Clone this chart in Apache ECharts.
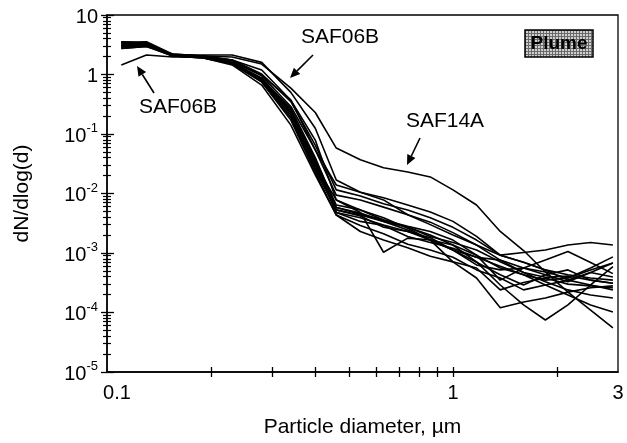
<!DOCTYPE html>
<html>
<head>
<meta charset="utf-8">
<script src="https://cdn.jsdelivr.net/npm/echarts@6/dist/echarts.min.js"></script>
<style>
html,body{margin:0;padding:0;background:#fff;}
#chart{width:627px;height:443px;}
</style>
</head>
<body>
<div id="chart"></div>
<script>
// Particle diameter (µm) at each measured bin
const diameters = [0.11,0.13,0.155,0.19,0.23,0.28,0.34,0.40,0.46,0.54,0.63,0.74,0.86,1.0,1.17,1.37,1.6,1.85,2.15,2.5,2.9];

// dN/dlog(d) for each flight
const saf14a = [3.13,3.2,2.13,2.05,1.97,1.5,0.59,0.23,0.058,0.037,0.027,0.023,0.019,0.0115,0.0064,0.0023,0.0011,0.00048,0.00022,0.00011,0.000055];
const saf06bUpper = [3.05,3.13,2.13,2.13,2.13,1.6,0.5,0.125,0.0169,0.0105,0.0078,0.0044,0.003,0.002,0.00136,0.00092,0.0007,0.00052,0.00035,0.00029,0.00024];
const saf06bLower = [1.45,2.13,1.97,1.97,1.75,0.98,0.37,0.079,0.0078,0.0053,0.0039,0.0026,0.00165,0.00112,0.0007,0.00043,0.00029,0.00043,0.00052,0.00035,0.00031];
const flight4 = [2.75,2.95,2.2,2.05,1.75,1.19,0.37,0.054,0.0139,0.0105,0.0085,0.0064,0.0049,0.0034,0.0019,0.00092,0.00102,0.00112,0.00136,0.0015,0.00136];
const flight5 = [3.55,3.45,2.13,1.97,1.6,0.81,0.23,0.03,0.0078,0.0048,0.00103,0.00178,0.00165,0.00136,0.00092,0.00056,0.00043,0.00035,0.00038,0.00052,0.00068];
const flight6 = [3.3,3.45,2.05,1.97,1.55,0.75,0.19,0.0248,0.0053,0.00435,0.0034,0.00244,0.00165,0.00071,0.00038,0.00012,0.00015,0.000175,0.00022,0.00026,0.00028];
const flight7 = [2.9,3.13,2.13,2.05,1.6,0.87,0.25,0.037,0.0064,0.0053,0.0036,0.0027,0.002,0.00136,0.00071,0.00029,0.000134,0.0000748,0.000134,0.00029,0.00059];
const flight8 = [3.45,3.3,2.05,1.9,1.5,0.84,0.27,0.04,0.0058,0.0045,0.0036,0.0028,0.0023,0.00165,0.00092,0.00035,0.00056,0.00076,0.00106,0.00069,0.00045];
const flight9 = [3.05,3.3,2.13,1.97,1.6,0.81,0.208,0.03,0.0048,0.0039,0.00296,0.0023,0.00165,0.00112,0.00085,0.0006,0.00043,0.00029,0.000197,0.000134,0.000102];
const flight10 = [3.3,3.3,2.05,1.97,1.55,0.87,0.23,0.034,0.0058,0.0047,0.0034,0.0027,0.0019,0.0015,0.00112,0.00071,0.00047,0.00033,0.00024,0.000197,0.000175];
const flight11 = [2.9,3.0,2.05,1.9,1.45,0.665,0.141,0.0205,0.00435,0.0023,0.00165,0.00122,0.00088,0.00071,0.00056,0.00024,0.00032,0.00038,0.0003,0.00028,0.00026];
const flight12 = [3.13,3.13,2.13,1.97,1.65,0.95,0.29,0.054,0.0094,0.0078,0.0059,0.0044,0.0033,0.0022,0.00136,0.00076,0.00047,0.00039,0.00041,0.00035,0.00031];
const flight13 = [3.45,3.55,2.2,2.05,1.75,1.02,0.35,0.065,0.0115,0.0091,0.0067,0.0053,0.0039,0.0027,0.00165,0.00092,0.0007,0.00052,0.00043,0.00038,0.00035];
const flight14 = [3.05,3.13,2.05,1.9,1.55,0.78,0.19,0.027,0.0053,0.0042,0.0027,0.0023,0.0018,0.00112,0.00063,0.00052,0.00056,0.00043,0.00033,0.00047,0.000395];
const flight15 = [2.75,2.95,2.05,1.97,1.6,0.84,0.23,0.033,0.0048,0.0034,0.0029,0.0019,0.0015,0.0012,0.00085,0.00076,0.00056,0.00048,0.00038,0.00056,0.00086];
const flight16 = [3.55,3.3,2.13,1.97,1.5,0.75,0.171,0.0226,0.00435,0.0029,0.0021,0.0014,0.00112,0.00085,0.00052,0.00038,0.00024,0.00029,0.00035,0.00047,0.00068];

const allFlights = [saf14a,saf06bUpper,saf06bLower,flight4,flight5,flight6,flight7,flight8,flight9,flight10,flight11,flight12,flight13,flight14,flight15,flight16];

// Axis ticks / labels
const xLabelValues = [0.1, 1, 3];
const xTickValues = [0.2,0.3,0.4,0.5,0.6,0.7,0.8,0.9,1,2];
const yDecades = [1e-5,1e-4,1e-3,1e-2,1e-1,1,10];
const yMinorMultipliers = [2,3,4,5,6,7,8,9];

const yMinorTicks = [];
yDecades.slice(0, -1).forEach(d => yMinorMultipliers.forEach(m => yMinorTicks.push(+(d*m).toPrecision(3))));

const FONT = 'Liberation Sans';
const chart = echarts.init(document.getElementById('chart'), null, {renderer:'canvas'});

function yLabel(v){
  const e = Math.round(Math.log10(v));
  if (e === 1) return '{b|10}';
  if (e === 0) return '{b|1}';
  return '{b|10}{s|' + e + '}';
}

// hatched fill for the "Plume" box
const pat = document.createElement('canvas');
pat.width = 3; pat.height = 3;
(function(){
  const c = pat.getContext('2d');
  c.fillStyle = '#d0d0d0'; c.fillRect(0,0,3,3);
  c.fillStyle = '#6a6a6a'; c.fillRect(0,0,3,1); c.fillRect(0,0,1,3);
})();

const baseX = {type:'log', logBase:10, min:0.1, max:3, gridIndex:0, splitLine:{show:false}};
const baseY = {type:'log', logBase:10, min:1e-5, max:10, gridIndex:0, splitLine:{show:false}};

const option = {
  animation:false,
  backgroundColor:'#fff',
  grid:{left:107, right:9, top:15, bottom:71, show:true, borderColor:'#000', borderWidth:1.3, backgroundColor:'transparent'},
  xAxis:[
    Object.assign({}, baseX, {
      position:'bottom',
      axisLine:{show:true, lineStyle:{color:'#000', width:1.5}},
      axisTick:{show:true, inside:true, length:5, customValues:xTickValues, lineStyle:{color:'#000', width:1.3}},
      axisLabel:{show:true, customValues:xLabelValues, margin:11, color:'#000', fontFamily:FONT, fontSize:20,
        formatter:v => (Math.abs(v-0.1)<1e-9 ? '{f|0.1}' : String(Math.round(v))),
        rich:{f:{fontFamily:FONT, fontSize:20, color:'#000', padding:[0,0,0,20]}}},
      name:'Particle diameter, µm', nameLocation:'middle', nameGap:45,
      nameTextStyle:{fontFamily:FONT, fontSize:21, color:'#000'}
    }),
    Object.assign({}, baseX, {
      position:'bottom',
      axisLine:{show:false},
      axisTick:{show:true, inside:false, length:5, customValues:xTickValues, lineStyle:{color:'#000', width:1.3}},
      axisLabel:{show:false}
    })
  ],
  yAxis:[
    Object.assign({}, baseY, {
      position:'left',
      axisLine:{show:true, lineStyle:{color:'#000', width:1.5}},
      axisTick:{show:true, inside:true, length:7, customValues:yDecades, lineStyle:{color:'#000', width:1.3}},
      axisLabel:{show:true, customValues:yDecades, margin:9, color:'#000', fontFamily:FONT,
        formatter:yLabel,
        rich:{b:{fontFamily:FONT, fontSize:20, color:'#000', lineHeight:24, verticalAlign:'bottom'},
              s:{fontFamily:FONT, fontSize:13, color:'#000', verticalAlign:'top', lineHeight:24}}},
      name:'dN/dlog(d)', nameLocation:'middle', nameGap:74, nameRotate:90,
      nameTextStyle:{fontFamily:FONT, fontSize:21, color:'#000'}
    }),
    Object.assign({}, baseY, {
      position:'left', axisLine:{show:false}, axisLabel:{show:false},
      axisTick:{show:true, inside:false, length:6, customValues:yDecades, lineStyle:{color:'#000', width:1.3}}
    }),
    Object.assign({}, baseY, {
      position:'left', axisLine:{show:false}, axisLabel:{show:false},
      axisTick:{show:true, inside:true, length:4, customValues:yMinorTicks, lineStyle:{color:'#000', width:1.2}}
    }),
    Object.assign({}, baseY, {
      position:'left', axisLine:{show:false}, axisLabel:{show:false},
      axisTick:{show:true, inside:false, length:4, customValues:yMinorTicks, lineStyle:{color:'#000', width:1.2}}
    })
  ],
  series: allFlights.map((ys, k) => ({
    type:'line', xAxisIndex:0, yAxisIndex:0, showSymbol:false, symbol:'none',
    lineStyle:{color:'#000', width:1.6}, z:2,
    data: diameters.map((d,i) => [d, ys[i]])
  })),
  graphic:[]
};

function arrow(x1,y1,x2,y2){
  const ang = Math.atan2(y2-y1, x2-x1);
  const L = 10, W = 4.5;
  const bx = x2 - L*Math.cos(ang), by = y2 - L*Math.sin(ang);
  const px = -Math.sin(ang)*W, py = Math.cos(ang)*W;
  return [
    {type:'line', shape:{x1:x1,y1:y1,x2:bx,y2:by}, style:{stroke:'#000', lineWidth:1.6}, z:10},
    {type:'polygon', shape:{points:[[x2,y2],[bx+px,by+py],[bx-px,by-py]]}, style:{fill:'#000'}, z:10}
  ];
}
function label(text,x,y){
  return {type:'text', x:x, y:y, style:{text:text, fill:'#000', font:'21px "Liberation Sans"', textAlign:'center', textVerticalAlign:'middle'}, z:10};
}

option.graphic = [].concat(
  [label('SAF06B', 340, 37), label('SAF06B', 178, 107), label('SAF14A', 445, 121)],
  arrow(313,55,290,78),
  arrow(154,93,137,66),
  arrow(420,138,407,165),
  [
    {type:'rect', shape:{x:525,y:30,width:68,height:27}, style:{fill:{image:pat, repeat:'repeat'}, stroke:'#000', lineWidth:1.5}, z:10},
    {type:'text', x:559, y:44, style:{text:'Plume', fill:'#000', font:'bold 19px "Liberation Sans"', textAlign:'center', textVerticalAlign:'middle'}, z:11}
  ]
);

chart.setOption(option);
</script>
</body>
</html>
